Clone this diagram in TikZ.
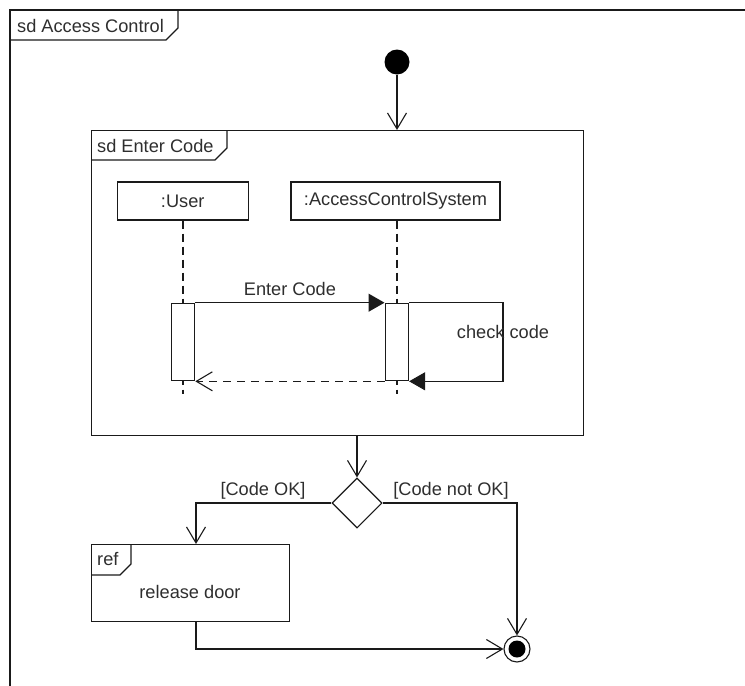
\documentclass[tikz,border=0pt]{standalone}
\usepackage{fontspec}
\setmainfont{Liberation Sans}
\usetikzlibrary{arrows.meta,shapes.geometric,calc}

\definecolor{ink}{HTML}{1A1A1A}
\definecolor{txt}{HTML}{2E2E2E}

\tikzset{
  base/.style={line width=1.1pt, draw=ink},
  lbl/.style={text=txt, font=\fontsize{18.2}{20}\selectfont, inner sep=0pt},
  framebox/.style={base, rectangle, inner sep=0pt, anchor=north west},
  lifebox/.style={base, rectangle, fill=white, inner sep=0pt, minimum height=38pt,
    text=txt, font=\fontsize{18.2}{20}\selectfont},
  actbox/.style={base, rectangle, fill=white, inner sep=0pt, minimum width=23.5pt, minimum height=77.5pt},
  lifeline/.style={base, dash pattern=on 8pt off 5pt},
  flow/.style={base, -{Straight Barb[length=16pt,width=19pt,line width=1.1pt]}},
  callmsg/.style={base, -{Triangle[length=16pt,width=18pt]}},
  replymsg/.style={base, dash pattern=on 8pt off 6pt, -{Straight Barb[length=16pt,width=19pt,line width=1.1pt]}},
  decision/.style={base, diamond, aspect=1, inner sep=0pt, minimum width=50pt, minimum height=50pt, fill=white},
  tabline/.style={base},
}

\begin{document}
\begin{tikzpicture}[x=1pt,y=-1pt]
  \useasboundingbox (0,0) rectangle (745,686);

  % outer interaction frame (continues past the page edges)
  \draw[base] (745,10) -- (10,10) -- (10,686);
  \draw[tabline] (10,40) -- (166,40) -- (178,28) -- (178,10);
  \node[lbl, anchor=west] (outertitle) at (17,25.5) {sd Access Control};

  % initial node
  \node[circle, fill=black, inner sep=0pt, minimum size=25pt] (start) at (397,62) {};

  % inner sequence diagram frame
  \node[framebox, minimum width=492pt, minimum height=305pt] (enter) at (91,130) {};
  \draw[tabline] (91,160) -- (215,160) -- (227,148) -- (227,130);
  \node[lbl, anchor=west] (entertitle) at (97,145.5) {sd Enter Code};

  % lifelines
  \node[lifebox, minimum width=131pt] (user) at (182.7,201) {:User};
  \node[lifebox, minimum width=209pt] (acs) at (395.5,201) {:AccessControlSystem};
  \coordinate (userend) at (183,394);
  \coordinate (acsend) at (397,394);
  \draw[lifeline] (user.south -| userend) -- (userend);
  \draw[lifeline] (acs.south -| acsend) -- (acsend);

  % activations
  \node[actbox] (useract) at (183,342) {};
  \node[actbox] (acsact) at (396.8,342) {};

  % messages
  \draw[callmsg] (useract.north east) -- (acsact.north west)
    node[lbl, midway, above=6pt] (entermsg) {Enter Code};
  \coordinate (selfr) at (503,342);
  \draw[callmsg] (acsact.north east) -| (selfr |- acsact.south) -- (acsact.south east);
  \node[lbl] (checkmsg) at (503,332) {check code};
  \draw[replymsg] (acsact.south west) -- (useract.south east);

  % control flow
  \draw[flow] (start) -- (start |- enter.north);

  \node[decision] (dec) at (357,503) {};
  \draw[flow] (dec |- enter.south) -- (dec.north);

  \node[framebox, minimum width=198pt, minimum height=77pt] (ref) at (91,544) {};
  \draw[tabline] (91,575) -- (120,575) -- (131,564) -- (131,544);
  \node[lbl, anchor=west] (reftitle) at (97,559) {ref};
  \node[lbl] (reftext) at (190,592) {release door};

  % final node
  \node[base, circle, fill=white, inner sep=0pt, minimum size=26pt] (final) at (517,649) {};
  \node[circle, fill=black, inner sep=0pt, minimum size=17pt] (finaldot) at (final) {};

  \coordinate (okdrop) at (196,0);
  \draw[flow] (dec.west) -| (okdrop |- ref.north);
  \node[lbl] (oklbl) at (263,491) {[Code OK]};
  \draw[flow] (dec.east) -| (final.north);
  \node[lbl] (noklbl) at (451,491) {[Code not OK]};
  \draw[flow] (okdrop |- ref.south) |- (final.west);
\end{tikzpicture}
\end{document}
